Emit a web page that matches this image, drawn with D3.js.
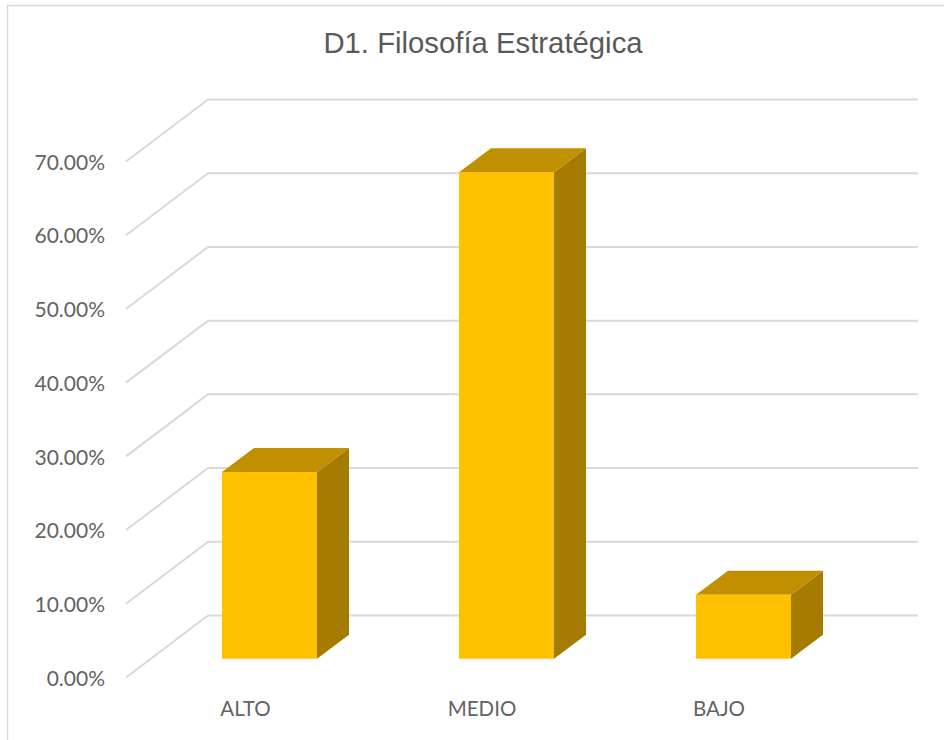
<!DOCTYPE html>
<html><head><meta charset="utf-8">
<script src="https://cdn.jsdelivr.net/npm/d3@7"></script>
<style>html,body{margin:0;padding:0;background:#fff;overflow:hidden}svg{display:block}</style>
</head><body><svg id="c" width="944" height="740"></svg>
<script>
const chartTitle = "D1. Filosofía Estratégica";
const categories = ["ALTO", "MEDIO", "BAJO"];
const values = [25.33, 66.0, 8.67];
const yTicks = [0, 10, 20, 30, 40, 50, 60, 70];
const barColors = {front: "#FFC000", top: "#C09000", side: "#A67C00"};

const svg = d3.select("#c");
const y = d3.scaleLinear().domain([0, 70]).range([677.5, 161.5]);
const back = {dx: 82, dy: -62};
const barOff = {dx: 25, dy: -18.8};
const barDepth = {dx: 32, dy: -24};
const xFront = d3.scalePoint().domain(categories).range([222, 696]);
const barW = 95;

svg.append("path").attr("d", "M7.5,740V5.5H944").attr("fill", "none").attr("stroke", "#D9D9D9").attr("stroke-width", 1.5);

svg.append("text").attr("x", 483).attr("y", 53).attr("text-anchor", "middle")
  .attr("font-family", "Liberation Sans").attr("font-size", 29.3).attr("fill", "#595959").text(chartTitle);

const grid = svg.append("g").attr("fill", "none").attr("stroke", "#D9D9D9").attr("stroke-width", 2);
yTicks.forEach(t => {
  grid.append("path").attr("d", d3.line()([[126, y(t)], [126 + back.dx, y(t) + back.dy], [918, y(t) + back.dy]]));
});

const axisG = svg.append("g").attr("transform", "translate(105,1)")
  .call(d3.axisLeft(y).tickValues(yTicks).tickSize(0).tickPadding(0).tickFormat(d => d.toFixed(2) + "%"));
axisG.select(".domain").remove();
axisG.selectAll("text").attr("font-family", "Lato").attr("font-size", 21).attr("fill", "#636363");

const base = y(0) + barOff.dy;
const bh = d => y(0) - y(d);
const bars = svg.append("g").selectAll("g").data(categories.map((c, i) => ({c, v: values[i]}))).join("g");
const poly = pts => "M" + pts.map(p => p.join(",")).join("L") + "Z";
bars.append("path").attr("fill", barColors.side).attr("d", d => {
  const l = xFront(d.c) + barW, t = base - bh(d.v);
  return poly([[l, t], [l + barDepth.dx, t + barDepth.dy], [l + barDepth.dx, base + barDepth.dy], [l, base]]);
});
bars.append("path").attr("fill", barColors.top).attr("d", d => {
  const l = xFront(d.c), t = base - bh(d.v);
  return poly([[l, t], [l + barDepth.dx, t + barDepth.dy], [l + barW + barDepth.dx, t + barDepth.dy], [l + barW, t]]);
});
bars.append("rect").attr("fill", barColors.front)
  .attr("x", d => xFront(d.c)).attr("width", barW)
  .attr("y", d => base - bh(d.v)).attr("height", d => bh(d.v));

const labelX = {ALTO: 245.5, MEDIO: 482, BAJO: 719};
svg.append("g").selectAll("text").data(categories).join("text")
  .attr("x", d => labelX[d]).attr("y", 716).attr("text-anchor", "middle")
  .attr("font-family", "Lato").attr("font-size", 20.5).attr("fill", "#636363").text(d => d);
</script></body></html>
